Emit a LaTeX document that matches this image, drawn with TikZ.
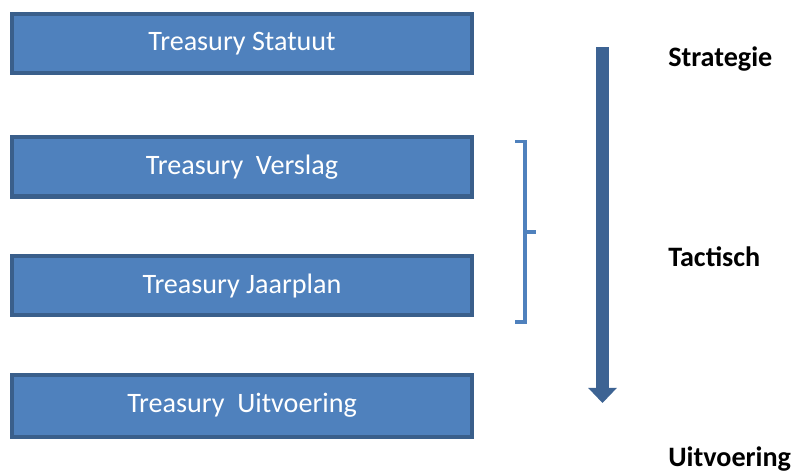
\documentclass[tikz,border=0pt]{standalone}
\usepackage{fontspec}
\setmainfont{Carlito}
\usepackage{xcolor}
\usepackage{tikz}
\usetikzlibrary{positioning,arrows.meta,calc}

\definecolor{boxfill}{HTML}{4F81BD}
\definecolor{boxline}{HTML}{3A5F8B}
\definecolor{arrowblue}{HTML}{3D6393}

\begin{document}
\begin{tikzpicture}[
    x=0.025cm, y=-0.025cm,
    font=\fontsize{20}{24}\selectfont,
    >=Stealth,
    block/.style={draw=boxline, fill=boxfill, line width=3pt, text=white, inner sep=0pt, minimum width=11.49cm, minimum height=1.48cm},
    level/.style={anchor=base west, inner sep=0pt, font=\fontsize{20}{24}\selectfont\bfseries},
    brace/.style={draw=boxfill, line width=2.2pt}
]
\useasboundingbox (0,0) rectangle (800,470);

% Statuut
\node[block] (statuut) at (242,43.5) {Treasury Statuut};

% Verslag
\node[block, below=1.5cm of statuut] (verslag) {Treasury\ \ Verslag};

% Jaarplan
\node[block, below=1.38cm of verslag] (jaarplan) {Treasury Jaarplan};

% Uitvoering
\node[block, minimum height=1.55cm, below=1.38cm of jaarplan] (uitvoering) {Treasury\ \ Uitvoering};

% niveaus
\node[level] (strategie) at (668,66) {Strategie};
\node[level] (tactisch) at (668,266) {Tactisch};
\node[level] (uitv) at (668,466) {Uitvoering};

% pijl
\coordinate (pijltop) at (602.5,47);
\coordinate (pijleind) at (602.5,403);
\draw[arrowblue, line width=0.325cm, -{Triangle[width=0.7cm, length=0.38cm]}] (pijltop) -- (pijleind);

% haak om verslag en jaarplan
\draw[brace] (515,141.5) -- (525,141.5) -- (525,322) -- (515,322);
\draw[brace] (525,232) -- (536,232);

\end{tikzpicture}
\end{document}
